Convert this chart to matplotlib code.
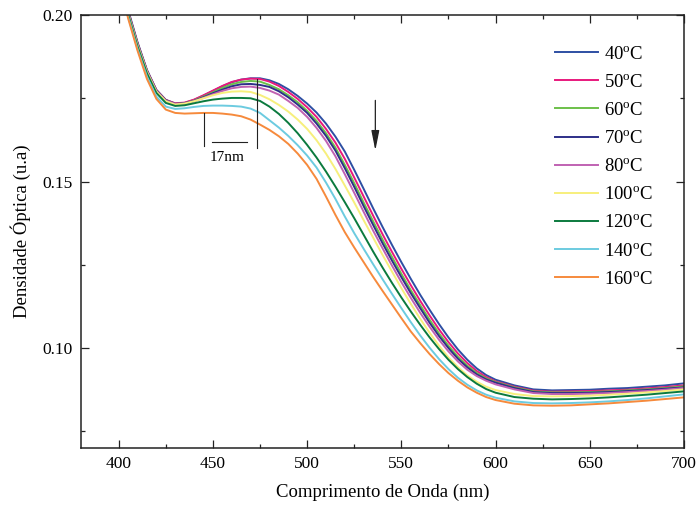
import matplotlib
matplotlib.use("Agg")
import matplotlib.pyplot as plt
from matplotlib.ticker import MultipleLocator, FormatStrFormatter

plt.rcParams['font.family'] = ['Liberation Serif', 'DejaVu Serif']
plt.rcParams['mathtext.fontset'] = 'custom'
plt.rcParams['mathtext.rm'] = 'Liberation Serif'
plt.rcParams['mathtext.it'] = 'Liberation Serif:italic'

wavelength = [400, 405, 410, 415, 420, 425, 430, 435, 440, 445, 450, 455, 460, 465, 470,
              475, 480, 485, 490, 495, 500, 505, 510, 515, 520, 525, 530, 535, 540, 545,
              550, 555, 560, 565, 570, 575, 580, 585, 590, 595, 600, 610, 620, 630, 640,
              650, 660, 670, 680, 690, 700]

od_40 = [.2130, .2015, .1918, .1835, .1775, .1745, .1734, .1736, .1745, .1758, .1772, .1786, .1798, .1806, .1810,
         .1810, .1804, .1793, .1777, .1757, .1734, .1707, .1674, .1635, .1590, .1535, .1478, .1420, .1364, .1310,
         .1258, .1208, .1160, .1115, .1072, .1032, .0996, .0965, .0939, .0919, .0905, .0888, .0876, .0873, .0874,
         .0875, .0878, .0880, .0884, .0888, .0894]
od_50 = [.2128, .2012, .1916, .1834, .1775, .1745, .1735, .1737, .1746, .1759, .1773, .1787, .1799, .1806, .1809,
         .1808, .1800, .1787, .1769, .1748, .1723, .1694, .1658, .1617, .1568, .1512, .1455, .1398, .1342, .1289,
         .1238, .1189, .1142, .1098, .1056, .1018, .0984, .0955, .0931, .0913, .0900, .0884, .0872, .0869, .0870,
         .0871, .0873, .0875, .0879, .0883, .0888]
od_60 = [.2125, .2010, .1914, .1832, .1773, .1744, .1733, .1735, .1743, .1755, .1768, .1781, .1792, .1799, .1802,
         .1800, .1790, .1777, .1759, .1738, .1712, .1682, .1645, .1602, .1550, .1495, .1437, .1381, .1326, .1274,
         .1223, .1174, .1129, .1085, .1044, .1007, .0974, .0947, .0925, .0909, .0898, .0882, .0870, .0867, .0867,
         .0868, .0870, .0873, .0876, .0880, .0885]
od_70 = [.2125, .2010, .1914, .1832, .1773, .1744, .1733, .1735, .1742, .1753, .1765, .1776, .1786, .1792, .1793,
         .1790, .1784, .1771, .1753, .1731, .1706, .1674, .1637, .1593, .1540, .1484, .1426, .1370, .1315, .1263,
         .1213, .1165, .1120, .1076, .1036, .1000, .0968, .0942, .0921, .0906, .0896, .0880, .0868, .0865, .0865,
         .0866, .0868, .0871, .0874, .0878, .0882]
od_80 = [.2122, .2008, .1912, .1831, .1772, .1743, .1733, .1734, .1741, .1751, .1762, .1772, .1780, .1784, .1785,
         .1781, .1773, .1761, .1742, .1721, .1694, .1661, .1622, .1576, .1522, .1466, .1409, .1353, .1300, .1248,
         .1198, .1151, .1106, .1064, .1025, .0990, .0960, .0935, .0916, .0902, .0891, .0876, .0865, .0862, .0862,
         .0863, .0865, .0868, .0871, .0875, .0880]
od_100 = [.2120, .2005, .1910, .1829, .1770, .1741, .1731, .1734, .1741, .1750, .1759, .1766, .1770, .1771, .1769,
          .1760, .1747, .1730, .1710, .1686, .1658, .1624, .1584, .1538, .1488, .1437, .1384, .1332, .1280, .1230,
          .1180, .1133, .1088, .1046, .1007, .0972, .0943, .0918, .0899, .0884, .0874, .0862, .0856, .0855, .0856,
          .0857, .0860, .0863, .0867, .0871, .0876]
od_120 = [.2118, .2002, .1906, .1825, .1766, .1736, .1727, .1729, .1735, .1741, .1746, .1749, .1751, .1751, .1750,
          .1742, .1725, .1703, .1676, .1645, .1610, .1572, .1530, .1485, .1438, .1390, .1340, .1290, .1242, .1196,
          .1152, .1110, .1070, .1032, .0997, .0965, .0937, .0913, .0893, .0877, .0866, .0853, .0848, .0846, .0847,
          .0849, .0852, .0856, .0860, .0865, .0870]
od_140 = [.2112, .1995, .1898, .1815, .1755, .1725, .1718, .1720, .1724, .1727, .1728, .1728, .1727, .1725, .1719,
          .1706, .1684, .1662, .1637, .1609, .1578, .1542, .1497, .1448, .1395, .1345, .1298, .1252, .1207, .1163,
          .1120, .1078, .1038, .1001, .0967, .0937, .0911, .0890, .0873, .0860, .0851, .0840, .0835, .0834, .0835,
          .0837, .0840, .0844, .0849, .0855, .0861]
od_160 = [.2110, .1990, .1893, .1808, .1748, .1716, .1706, .1704, .1705, .1706, .1706, .1704, .1701, .1696, .1686,
          .1671, .1655, .1636, .1613, .1584, .1550, .1508, .1455, .1400, .1348, .1302, .1258, .1214, .1172, .1131,
          .1090, .1050, .1015, .0982, .0952, .0925, .0902, .0882, .0866, .0853, .0844, .0833, .0828, .0827, .0828,
          .0831, .0834, .0838, .0842, .0847, .0852]

temperatures = ['40', '50', '60', '70', '80', '100', '120', '140', '160']
series = [od_40, od_50, od_60, od_70, od_80, od_100, od_120, od_140, od_160]
colors = ['#2e4fa3', '#e8197d', '#6cc04a', '#2d2f88', '#c062b2', '#f7ef7c', '#0b7a3e', '#6ccbe0', '#f68a3c']

fig = plt.figure(figsize=(6.97, 5.08), dpi=100)
ax = fig.add_axes([81/697, 1-448/508, (684-81)/697, (448-15)/508])

for t, s, c in zip(temperatures, series, colors):
    ax.plot(wavelength, s, color=c, lw=1.4, label=t + r'$^{\mathrm{o}}$C')

ax.set_xlim(380, 700)
ax.set_ylim(0.07, 0.20)
ax.xaxis.set_major_locator(MultipleLocator(50))
ax.xaxis.set_minor_locator(MultipleLocator(25))
ax.yaxis.set_major_locator(MultipleLocator(0.05))
ax.yaxis.set_minor_locator(MultipleLocator(0.025))
ax.yaxis.set_major_formatter(FormatStrFormatter('%.2f'))
ax.tick_params(which='both', direction='in', top=True, right=True, labelsize=12.5, width=0.9, color='#222222')
ax.tick_params(which='major', length=5.5, pad=6)
ax.tick_params(which='minor', length=3)
for sp in ax.spines.values():
    sp.set_linewidth(1.1)
    sp.set_color('#222222')

ax.set_xlabel('Comprimento de Onda (nm)', fontsize=13.5, labelpad=8)
ax.set_ylabel('Densidade Óptica (u.a)', fontsize=13.5, labelpad=8)

# annotation of the 17 nm shift
ax.plot([445.2, 445.2], [0.1705, 0.1607], color='#222222', lw=0.8)
ax.plot([473.5, 473.5], [0.1808, 0.1602], color='#222222', lw=0.8)
ax.plot([449.3, 468.2], [0.1619, 0.1619], color='#222222', lw=0.8)
ax.text(457.6, 0.1573, '17nm', fontsize=11, ha='center', va='center')

ax.annotate('', xy=(536.2, 0.1585), xytext=(536.2, 0.1752),
            arrowprops=dict(arrowstyle='-|>,head_length=1.0,head_width=0.2',
                            color='#222222', lw=0.9, mutation_scale=12))

leg = ax.legend(loc='upper left', bbox_to_anchor=(0.786, 0.929), frameon=False,
                fontsize=13.5, handlelength=2.3, handletextpad=0.3, labelspacing=0.585,
                borderpad=0, borderaxespad=0)

fig.savefig('out.png', dpi=100)
